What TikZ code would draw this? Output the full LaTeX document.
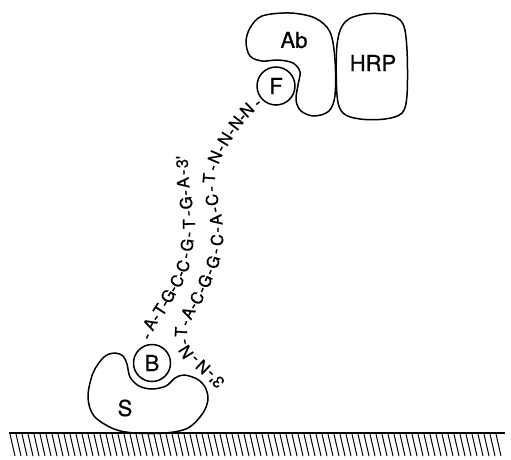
\documentclass[tikz,border=0pt]{standalone}
\usepackage{fontspec}
\setmainfont{TeX Gyre Heros}
\newfontfamily\seqfont{TeX Gyre Heros}[FakeBold=0.9]
\newfontfamily\lblfont{TeX Gyre Heros}[FakeBold=0.6]
\begin{document}
\begin{tikzpicture}[x=1pt,y=-1pt,
  outline/.style={line width=1.5pt, line join=round},
  lbl/.style={font=\lblfont\fontsize{22}{22}\selectfont, inner sep=0pt},
  ring/.style={circle, draw, outline, inner sep=0pt, font=\lblfont\fontsize{22}{22}\selectfont},
  glyph/.style={font=\seqfont\fontsize{16.5}{16.5}\selectfont, inner sep=0pt, anchor=center}]
\useasboundingbox (0,0) rectangle (511,459);
% ground
\draw[line width=2.4pt] (9,433) -- (505,433);
\foreach \x in {10,16,...,500} \draw[line width=1pt] (\x,434) -- (\x+5,456);
% S blob
\draw[outline] plot[smooth cycle, tension=0.55] coordinates {
 (115,353) (123,356) (127,364) (130,377) (139,386) (152,389) (166,386) (175,378)
 (184,375) (197,379) (205,387) (208,399) (203,413) (188,428) (165,433) (135,433)
 (114,429) (94,416) (88,397) (93,373) (104,357)};
\node[lbl] (S) at (125,408) {S};
\node[ring, minimum size=37pt] (B) at (152,363) {B};
% Ab blob
\draw[outline] plot[smooth cycle, tension=0.55] coordinates {
 (250,28) (262,16) (290,13) (315,18) (330,32) (335,60) (335,95) (329,111) (314,116)
 (301,111) (296,100) (298,85) (300,72) (293,63) (278,60) (262,61) (250,56) (246,42)};
\node[lbl] (Ab) at (294,40) {Ab};
% HRP blob
\draw[outline] plot[smooth cycle, tension=0.55] coordinates {
 (337,45) (345,22) (365,14) (390,15) (403,24) (407,50) (407,95) (402,113) (385,119)
 (360,119) (343,113) (337,95)};
\node[lbl] (HRP) at (373,63) {HRP};
\node[ring, minimum size=38pt] (F) at (276,86) {F};
% strand 1
\foreach \px/\py/\ang/\ch [count=\i] in {
 146/336/68/-, 150/324/63/A, 155/317/55/-, 160/310/57/T, 164/303/60/-,
 168/296/60/G, 172.5/288.5/59/-, 177/281/63/C, 180/273.5/68/-, 183/266/73/C,
 185/255.5/79/-, 187/245/82/G, 188/234.5/85/-, 189/224/91/T, 187.5/213.5/97/-,
 186/203/98/G, 184.5/193/98/-, 183/183/96/A, 182.5/172.5/93/-, 182/162/92/3'}
  \node[glyph, rotate=\ang] (sa\i) at (\px,\py) {\vphantom{A}\ch};
% strand 2
\foreach \px/\py/\ang/\ch [count=\i] in {
 217/381/135/3', 210/374/135/-, 203/367/137/N, 194.5/359.5/139/-, 186/352/122/N,
 183.5/342/104/-, 181/332/87/T, 184.5/322.5/70/-, 188/313/64/A, 192.5/305.5/59/-,
 197/298/62/C, 201/289.5/65/-, 205/281/66/G, 209/271.5/67/-, 213/262/73/G,
 215/251/80/-, 217/240/86/C, 216.5/230/93/-, 216/220/97/A, 214/210/101/-,
 212/200/100/C, 210.5/189/98/-, 209/178/86/T, 212/167.5/74/-, 215/157/67/N,
 220/148/61/-, 225/139/58/N, 230.5/131/55/-, 236/123/53/N, 241.5/116.5/50/-,
 247/110/44/N, 257/102/39/-}
  \node[glyph, rotate=\ang] (sb\i) at (\px,\py) {\vphantom{A}\ch};
\end{tikzpicture}
\end{document}
